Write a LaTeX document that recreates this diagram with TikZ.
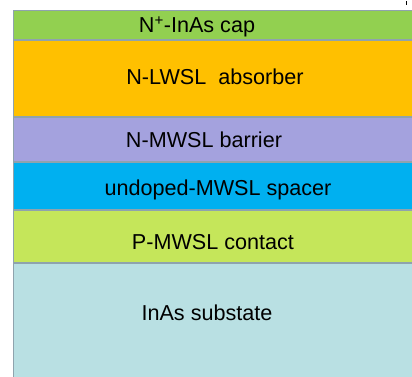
\documentclass[tikz,border=0pt]{standalone}
\usepackage{fontspec}
\setmainfont{Liberation Sans}
\definecolor{capc}{HTML}{92D050}
\definecolor{absc}{HTML}{FFC000}
\definecolor{barc}{HTML}{A4A2DE}
\definecolor{spac}{HTML}{00B0F0}
\definecolor{conc}{HTML}{C5E65A}
\definecolor{subc}{HTML}{B9E0E3}
\definecolor{edgec}{HTML}{8FA3AD}
\tikzset{
  layer/.style={draw=edgec, line width=1.5pt},
  lbl/.style={font=\fontsize{21.6}{23}\selectfont, text=black, inner sep=0pt}
}
\begin{document}
\begin{tikzpicture}[x=1pt,y=-1pt]
\useasboundingbox (0,0) rectangle (412,376);
\fill[white] (0,0) rectangle (412,376);
\path[layer, fill=subc] (13.5,263) rectangle (414,380);
\path[layer, fill=conc] (13.5,210) rectangle (414,263);
\path[layer, fill=spac] (13.5,162) rectangle (414,210);
\path[layer, fill=barc] (13.5,117) rectangle (414,162);
\path[layer, fill=absc] (13.5,40) rectangle (414,117);
\path[layer, fill=capc] (13.5,10.5) rectangle (414,40);
\fill[black] (405.5,1) rectangle (407,4.5);
\node[lbl] (cap) at (197,27) {N\textsuperscript{+}-InAs cap};
\node[lbl] (abs) at (215,77) {N-LWSL\ \ absorber};
\node[lbl] (bar) at (204,140) {N-MWSL barrier};
\node[lbl] (spa) at (218,190) {undoped-MWSL spacer};
\node[lbl] (con) at (213,242) {P-MWSL contact};
\node[lbl] (sub) at (207,313) {InAs substate};
\end{tikzpicture}
\end{document}
